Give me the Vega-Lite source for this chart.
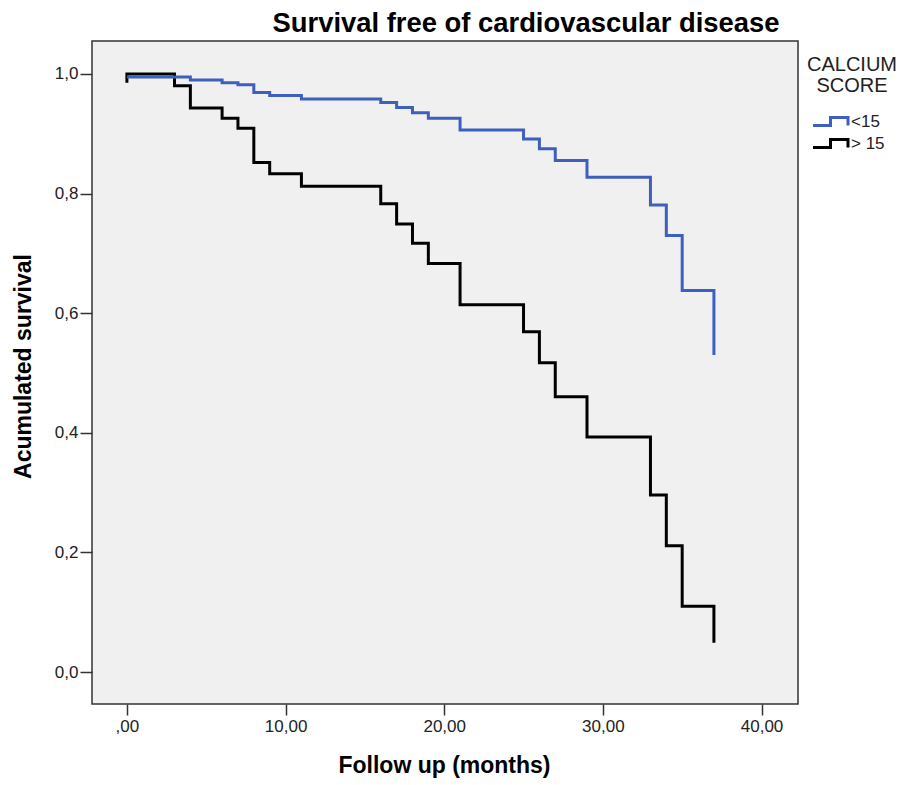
{
  "$schema": "https://vega.github.io/schema/vega-lite/v6.json",
  "width": 706,
  "height": 663,
  "autosize": {"type": "none"},
  "padding": {"left": 92, "top": 41, "right": 111, "bottom": 81},
  "background": "white",
  "title": {"text": "Survival free of cardiovascular disease", "font": "Liberation Sans", "fontSize": 27.4, "fontWeight": "bold", "color": "#000", "anchor": "middle", "dx": 81, "dy": 27, "baseline": "alphabetic", "offset": 9},
  "data": {"values": [
    {"group": "> 15", "i": 0, "t": 0, "s": 0.985},
    {"group": "> 15", "i": 1, "t": 0, "s": 1.0},
    {"group": "> 15", "i": 2, "t": 3, "s": 0.98},
    {"group": "> 15", "i": 3, "t": 4, "s": 0.943},
    {"group": "> 15", "i": 4, "t": 6, "s": 0.926},
    {"group": "> 15", "i": 5, "t": 7, "s": 0.909},
    {"group": "> 15", "i": 6, "t": 8, "s": 0.852},
    {"group": "> 15", "i": 7, "t": 9, "s": 0.833},
    {"group": "> 15", "i": 8, "t": 11, "s": 0.812},
    {"group": "> 15", "i": 9, "t": 16, "s": 0.783},
    {"group": "> 15", "i": 10, "t": 17, "s": 0.749},
    {"group": "> 15", "i": 11, "t": 18, "s": 0.717},
    {"group": "> 15", "i": 12, "t": 19, "s": 0.683},
    {"group": "> 15", "i": 13, "t": 21, "s": 0.614},
    {"group": "> 15", "i": 14, "t": 25, "s": 0.569},
    {"group": "> 15", "i": 15, "t": 26, "s": 0.517},
    {"group": "> 15", "i": 16, "t": 27, "s": 0.46},
    {"group": "> 15", "i": 17, "t": 29, "s": 0.393},
    {"group": "> 15", "i": 18, "t": 33, "s": 0.296},
    {"group": "> 15", "i": 19, "t": 34, "s": 0.211},
    {"group": "> 15", "i": 20, "t": 35, "s": 0.11},
    {"group": "> 15", "i": 21, "t": 37, "s": 0.049},
    {"group": "<15", "i": 0, "t": 0, "s": 0.995},
    {"group": "<15", "i": 1, "t": 4, "s": 0.99},
    {"group": "<15", "i": 2, "t": 6, "s": 0.985},
    {"group": "<15", "i": 3, "t": 7, "s": 0.982},
    {"group": "<15", "i": 4, "t": 8, "s": 0.969},
    {"group": "<15", "i": 5, "t": 9, "s": 0.964},
    {"group": "<15", "i": 6, "t": 11, "s": 0.958},
    {"group": "<15", "i": 7, "t": 16, "s": 0.952},
    {"group": "<15", "i": 8, "t": 17, "s": 0.944},
    {"group": "<15", "i": 9, "t": 18, "s": 0.935},
    {"group": "<15", "i": 10, "t": 19, "s": 0.926},
    {"group": "<15", "i": 11, "t": 21, "s": 0.906},
    {"group": "<15", "i": 12, "t": 25, "s": 0.891},
    {"group": "<15", "i": 13, "t": 26, "s": 0.875},
    {"group": "<15", "i": 14, "t": 27, "s": 0.855},
    {"group": "<15", "i": 15, "t": 29, "s": 0.827},
    {"group": "<15", "i": 16, "t": 33, "s": 0.781},
    {"group": "<15", "i": 17, "t": 34, "s": 0.73},
    {"group": "<15", "i": 18, "t": 35, "s": 0.638},
    {"group": "<15", "i": 19, "t": 37, "s": 0.53}
  ]},
  "mark": {"type": "line", "interpolate": "step-after", "strokeWidth": 3},
  "encoding": {
    "x": {
      "field": "t", "type": "quantitative",
      "scale": {"domain": [-2.2, 42.3], "nice": false, "zero": false},
      "axis": {
        "values": [0, 10, 20, 30, 40],
        "labelExpr": "datum.value == 0 ? ',00' : replace(format(datum.value, '.2f'), '.', ',')",
        "grid": false, "domain": false,
        "tickSize": 11, "tickColor": "#333", "tickWidth": 1.5,
        "labelFont": "Liberation Sans", "labelFontSize": 17, "labelColor": "#222", "labelPadding": 3,
        "title": "Follow up (months)",
        "titleFont": "Liberation Sans", "titleFontSize": 23, "titleFontWeight": "bold", "titleColor": "#000",
        "titleX": 352, "titleY": 68, "titleBaseline": "alphabetic", "titleAlign": "center"
      }
    },
    "y": {
      "field": "s", "type": "quantitative",
      "scale": {"domain": [-0.0535, 1.055], "nice": false, "zero": false},
      "axis": {
        "values": [0, 0.2, 0.4, 0.6, 0.8, 1.0],
        "labelExpr": "replace(format(datum.value, '.1f'), '.', ',')",
        "grid": false, "domain": false,
        "tickSize": 12, "tickColor": "#333", "tickWidth": 1.5,
        "labelFont": "Liberation Sans", "labelFontSize": 17, "labelColor": "#222", "labelPadding": 2,
        "title": "Acumulated survival",
        "titleFont": "Liberation Sans", "titleFontSize": 23, "titleFontWeight": "bold", "titleColor": "#000",
        "titleX": -68.5, "titleY": 325, "titleAngle": -90, "titleBaseline": "middle", "titleAlign": "center"
      }
    },
    "color": {
      "field": "group", "type": "nominal",
      "scale": {"domain": ["<15", "> 15"], "range": ["#3f5fbf", "#000000"]},
      "legend": {
        "orient": "none", "legendX": 715, "legendY": 14,
        "title": ["CALCIUM", "SCORE"],
        "titleFont": "Liberation Sans", "titleFontSize": 20, "titleFontWeight": "normal", "titleColor": "#222",
        "titleAlign": "center", "titleAnchor": "middle", "titleLineHeight": 21, "titlePadding": 14,
        "symbolType": "M-1.75,0.4H0V-0.4H1.75V0.4",
        "symbolSize": 400, "symbolStrokeWidth": 3, "symbolFillColor": "transparent",
        "labelFont": "Liberation Sans", "labelFontSize": 17, "labelColor": "#222", "labelOffset": 9,
        "rowPadding": 0, "padding": 0
      }
    },
    "order": {"field": "i", "type": "quantitative"}
  },
  "config": {"view": {"fill": "#f0f0f0", "stroke": "#333", "strokeWidth": 1.5}}
}
